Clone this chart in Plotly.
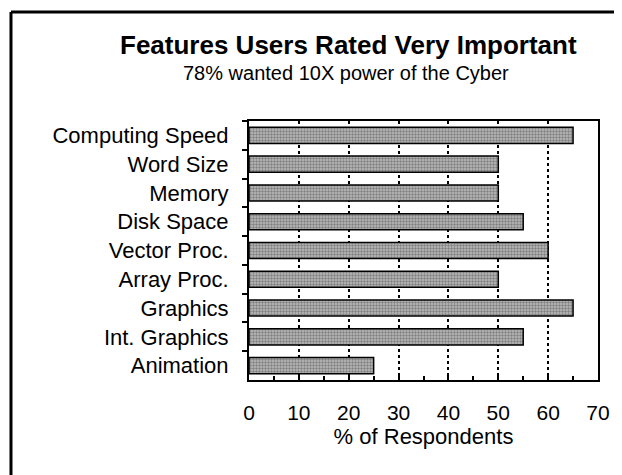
import plotly.graph_objects as go

# data
features = ['Computing Speed', 'Word Size', 'Memory', 'Disk Space', 'Vector Proc.',
            'Array Proc.', 'Graphics', 'Int. Graphics', 'Animation']
pct_very_important = [65, 50, 50, 55, 60, 50, 65, 55, 25]
x_ticks = [0, 10, 20, 30, 40, 50, 60, 70]

title_text = 'Features Users Rated Very Important'
subtitle_text = '78% wanted 10X power of the Cyber'
x_title = '% of Respondents'

FONT = 'Liberation Sans, Arial, sans-serif'

fig = go.Figure()
fig.add_trace(go.Bar(
    y=features,
    x=pct_very_important,
    orientation='h',
    width=0.56,
    marker=dict(
        color='#bdbdbd',
        line=dict(color='black', width=1.5),
        pattern=dict(shape='.', fgcolor='#444444', size=3, solidity=0.5),
    ),
    hoverinfo='x+y',
))

# outer slide frame (left and top edges visible in the scan)
frame = [
    dict(x0=-0.682, x1=-0.682, y0=1.421, y1=-0.4),
    dict(x0=-0.682, x1=1.2, y0=1.421, y1=1.421),
]
shapes = [dict(type='line', xref='paper', yref='paper', line=dict(color='black', width=3), **f)
          for f in frame]

# page body adds an 8px offset, margins are compensated for it
fig.update_layout(
    width=622, height=475,
    margin=dict(l=241, r=32, t=113, b=103),
    paper_bgcolor='white', plot_bgcolor='white',
    font=dict(family=FONT, color='black', size=20),
    showlegend=False,
    shapes=shapes,
    annotations=[
        dict(text='<b>' + title_text + '</b>', x=0.284, y=1.293, xref='paper', yref='paper',
             xanchor='center', yanchor='middle',
             showarrow=False, font=dict(size=26, family=FONT, color='black')),
        dict(text=subtitle_text, x=0.278, y=1.185, xref='paper', yref='paper',
             xanchor='center', yanchor='middle',
             showarrow=False, font=dict(size=20, family=FONT, color='black')),
    ],
)

fig.update_xaxes(
    range=[0, 70],
    tickvals=x_ticks,
    ticks='inside', ticklen=5, tickwidth=1.5, tickcolor='black',
    minor=dict(dtick=5, ticks='inside', ticklen=4, tickwidth=1.5, tickcolor='black', showgrid=False),
    showgrid=True, gridcolor='black', griddash='dot', gridwidth=1.5,
    showline=True, linecolor='black', linewidth=2, mirror=True,
    zeroline=False,
    ticklabelstandoff=13,
    tickfont=dict(size=21),
    title=dict(text=x_title, font=dict(size=22), standoff=0),
)
fig.update_yaxes(
    autorange='reversed',
    tickson='boundaries',
    ticks='outside', ticklen=5, tickwidth=1.5, tickcolor='black',
    showgrid=False,
    showline=True, linecolor='black', linewidth=2, mirror=True,
    ticklabelstandoff=14,
    tickfont=dict(size=22),
)

fig.write_html('out.html')
